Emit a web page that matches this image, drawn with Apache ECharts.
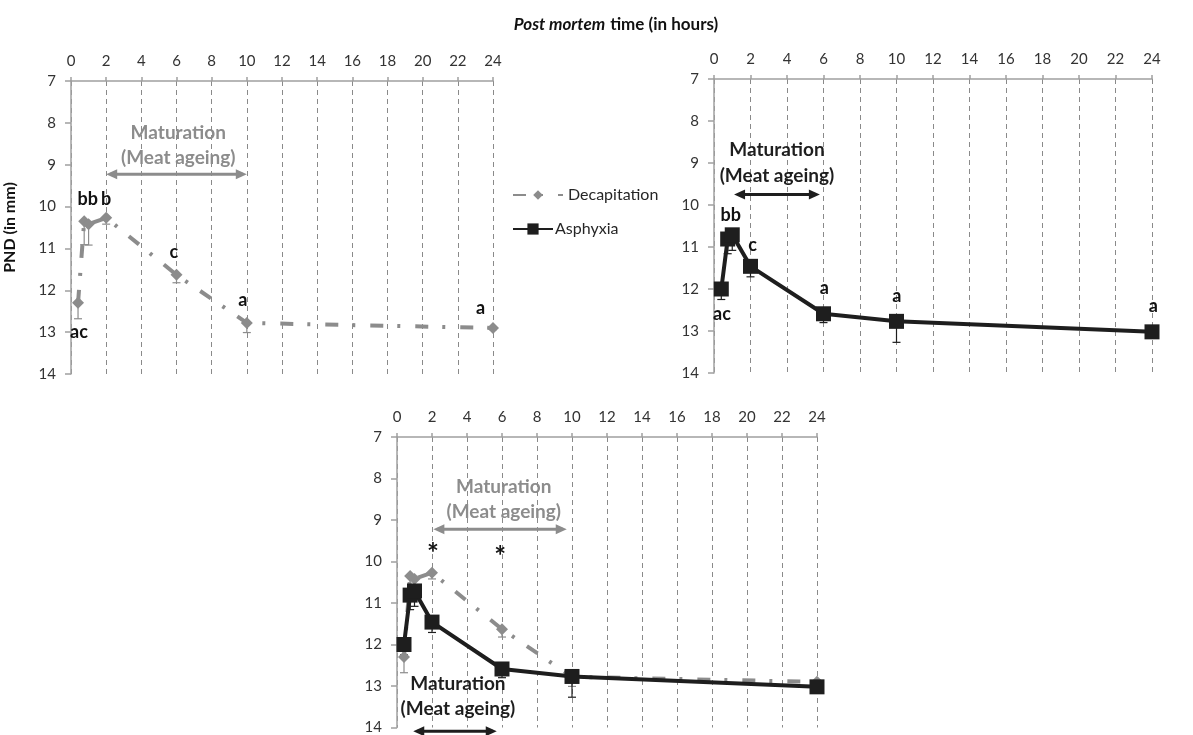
<!DOCTYPE html>
<html>
<head>
<meta charset="utf-8">
<script src="https://cdn.jsdelivr.net/npm/echarts@6/dist/echarts.min.js"></script>
<style>
html,body{margin:0;padding:0;background:#fff;}
#chart{width:1193px;height:735px;}
</style>
</head>
<body>
<div id="chart"></div>
<script>
// ---- data ----
const times = [0.4, 0.75, 1, 2, 6, 10, 24];
const decapitation = [12.3, 10.35, 10.42, 10.27, 11.63, 12.78, 12.9];
const decapitationErr = [0.38, 0.56, 0.5, 0.15, 0.19, 0.23, 0.04];
const asphyxia = [12.0, 10.81, 10.71, 11.46, 12.59, 12.77, 13.02];
const asphyxiaErr = [0.25, 0.35, 0.37, 0.25, 0.21, 0.5, 0.04];
const xTicks = [0, 2, 4, 6, 8, 10, 12, 14, 16, 18, 20, 22, 24];
const yTicks = [7, 8, 9, 10, 11, 12, 13, 14];

// letters of significance [x, y, text]
const lettersDecap = [[0.45, 13.0, 'ac'], [0.95, 9.83, 'bb'], [2.0, 9.83, 'b'], [5.85, 11.1, 'c'], [9.77, 12.23, 'a'], [23.3, 12.43, 'a']];
const lettersAsph = [[0.44, 12.61, 'ac'], [0.92, 10.25, 'bb'], [2.12, 10.96, 'c'], [6.05, 11.98, 'a'], [10.02, 12.16, 'a'], [24.07, 12.41, 'a']];
const lettersBoth = [[2.06, 9.82, '*'], [5.9, 9.9, '*']];

// maturation annotations: [x1, x2, arrowY, textX, textY1, textY2]
const matDecap = [2, 10, 9.23, 6.1, 8.24, 8.84];
const matAsph = [1.1, 5.8, 9.75, 3.45, 8.68, 9.3];
const matBothDecap = [2.08, 9.7, 9.22, 6.1, 8.2, 8.81];
const matBothAsph = [0.93, 5.7, 14.09, 3.48, 12.94, 13.56];

const GRAY = '#8c8c8c';
const BLACK = '#1e1e1e';
const FONT = 'Lato';

const pairs = (ys) => times.map((t, i) => [t, ys[i]]);
const errData = (ys, es) => times.map((t, i) => [t, ys[i], es[i]]);

function xAxisCfg(gi) {
  return {
    gridIndex: gi, type: 'value', position: 'top', min: 0, max: 24, interval: 2,
    axisLine: {show: true, onZero: false, lineStyle: {color: '#a0a0a0', width: 1.5}},
    axisTick: {show: true, length: 4, lineStyle: {color: '#a0a0a0', width: 1.5}},
    axisLabel: {color: '#333', fontSize: 15, fontFamily: FONT, margin: 12,
      customValues: xTicks},
    splitLine: {show: true, lineStyle: {color: '#8a8a8a', type: [5, 4], width: 1}}
  };
}
function yAxisCfg(gi, name) {
  return {
    gridIndex: gi, type: 'value', inverse: true, min: 7, max: 14, interval: 1,
    name: name || '', nameLocation: 'middle', nameGap: 53, nameRotate: 90,
    nameTextStyle: {fontFamily: FONT, fontWeight: 'bold', fontSize: 16, color: '#111'},
    axisLine: {show: true, onZero: false, lineStyle: {color: '#a0a0a0', width: 1.5}},
    axisTick: {show: true, length: 6, lineStyle: {color: '#a0a0a0', width: 1.5}},
    axisLabel: {color: '#333', fontSize: 15, fontFamily: FONT, margin: 15, customValues: yTicks},
    splitLine: {show: false}
  };
}

function lineSeries(gi, name, ys, z) {
  const isDecap = name === 'Decapitation';
  return {
    type: 'line', name: name, xAxisIndex: gi, yAxisIndex: gi, data: pairs(ys), z: z,
    symbol: isDecap ? 'diamond' : 'rect', symbolSize: isDecap ? 12 : 15,
    showSymbol: true,
    itemStyle: {color: isDecap ? GRAY : BLACK},
    lineStyle: isDecap ? {color: GRAY, width: 4, type: [13, 14, 3, 15]} : {color: BLACK, width: 4},
    animation: false
  };
}

function errSeries(gi, ys, es, color) {
  return {
    type: 'custom', xAxisIndex: gi, yAxisIndex: gi, data: errData(ys, es), z: 1, silent: true,
    animation: false,
    renderItem: function (params, api) {
      const x = api.value(0), y = api.value(1), e = api.value(2);
      const p0 = api.coord([x, y]);
      const p1 = api.coord([x, y + e]);
      return {
        type: 'group',
        children: [
          {type: 'line', shape: {x1: p0[0], y1: p0[1], x2: p1[0], y2: p1[1]}, style: {stroke: color, lineWidth: 1.2}},
          {type: 'line', shape: {x1: p1[0] - 4, y1: p1[1], x2: p1[0] + 4, y2: p1[1]}, style: {stroke: color, lineWidth: 1.2}}
        ]
      };
    }
  };
}

function textSeries(gi, arr, color, size) {
  return {
    type: 'custom', xAxisIndex: gi, yAxisIndex: gi, data: arr.map(d => [d[0], d[1]]), z: 10, silent: true,
    clip: false, animation: false,
    renderItem: function (params, api) {
      const p = api.coord([api.value(0), api.value(1)]);
      return {
        type: 'text', x: p[0], y: p[1],
        style: {text: arr[params.dataIndex][2], fill: color, font: 'bold ' + size + 'px ' + FONT,
          align: 'center', verticalAlign: 'middle'}
      };
    }
  };
}

function maturationSeries(gi, m, color) {
  return {
    type: 'custom', xAxisIndex: gi, yAxisIndex: gi, data: [m], z: 9, silent: true,
    clip: false, animation: false,
    renderItem: function (params, api) {
      const a = api.coord([m[0], m[2]]);
      const b = api.coord([m[1], m[2]]);
      const t1 = api.coord([m[3], m[4]]);
      const t2 = api.coord([m[3], m[5]]);
      const hl = 11, hw = 5;
      return {
        type: 'group',
        children: [
          {type: 'line', shape: {x1: a[0] + 4, y1: a[1], x2: b[0] - 4, y2: b[1]}, style: {stroke: color, lineWidth: 3}},
          {type: 'polygon', shape: {points: [[a[0], a[1]], [a[0] + hl, a[1] - hw], [a[0] + hl, a[1] + hw]]}, style: {fill: color}},
          {type: 'polygon', shape: {points: [[b[0], b[1]], [b[0] - hl, b[1] - hw], [b[0] - hl, b[1] + hw]]}, style: {fill: color}},
          {type: 'text', x: t1[0], y: t1[1], style: {text: 'Maturation', fill: color, font: 'bold 19px ' + FONT, align: 'center', verticalAlign: 'middle'}},
          {type: 'text', x: t2[0], y: t2[1], style: {text: '(Meat ageing)', fill: color, font: 'bold 19px ' + FONT, align: 'center', verticalAlign: 'middle'}}
        ]
      };
    }
  };
}

const chart = echarts.init(document.getElementById('chart'), null, {renderer: 'canvas'});
chart.setOption({
  backgroundColor: '#ffffff',
  animation: false,
  title: {
    text: '{i|Post mortem} {b|time (in hours)}',
    left: 611, top: 11, textAlign: 'center',
    textStyle: {rich: {
      i: {fontFamily: FONT, fontStyle: 'italic', fontWeight: 'bold', fontSize: 17, color: '#111'},
      b: {fontFamily: FONT, fontWeight: 'bold', fontSize: 17, color: '#111'}
    }}
  },
  legend: [
    {data: ['Decapitation'], left: 507, top: 182, itemWidth: 50, itemHeight: 12,
      textStyle: {fontFamily: FONT, fontSize: 16, color: '#262626'}, selectedMode: false},
    {data: ['Asphyxia'], left: 507, top: 216, itemWidth: 40, itemHeight: 14,
      textStyle: {fontFamily: FONT, fontSize: 16, color: '#262626', padding: [0, 0, 0, -3]}, selectedMode: false}
  ],
  grid: [
    {left: 71, top: 81, width: 422, height: 293},
    {left: 714, top: 79, width: 438, height: 294},
    {left: 397, top: 437, width: 420, height: 291}
  ],
  xAxis: [xAxisCfg(0), xAxisCfg(1), xAxisCfg(2)],
  yAxis: [yAxisCfg(0, 'PND (in mm)'), yAxisCfg(1), yAxisCfg(2)],
  series: [
    errSeries(0, decapitation, decapitationErr, GRAY),
    lineSeries(0, 'Decapitation', decapitation, 3),
    textSeries(0, lettersDecap, '#111', 18),
    maturationSeries(0, matDecap, GRAY),

    errSeries(1, asphyxia, asphyxiaErr, BLACK),
    lineSeries(1, 'Asphyxia', asphyxia, 3),
    textSeries(1, lettersAsph, '#111', 18),
    maturationSeries(1, matAsph, BLACK),

    errSeries(2, decapitation, decapitationErr, GRAY),
    lineSeries(2, 'Decapitation', decapitation, 3),
    errSeries(2, asphyxia, asphyxiaErr, BLACK),
    lineSeries(2, 'Asphyxia', asphyxia, 4),
    textSeries(2, lettersBoth, '#111', 28),
    maturationSeries(2, matBothDecap, GRAY),
    maturationSeries(2, matBothAsph, BLACK)
  ]
});
</script>
</body>
</html>
